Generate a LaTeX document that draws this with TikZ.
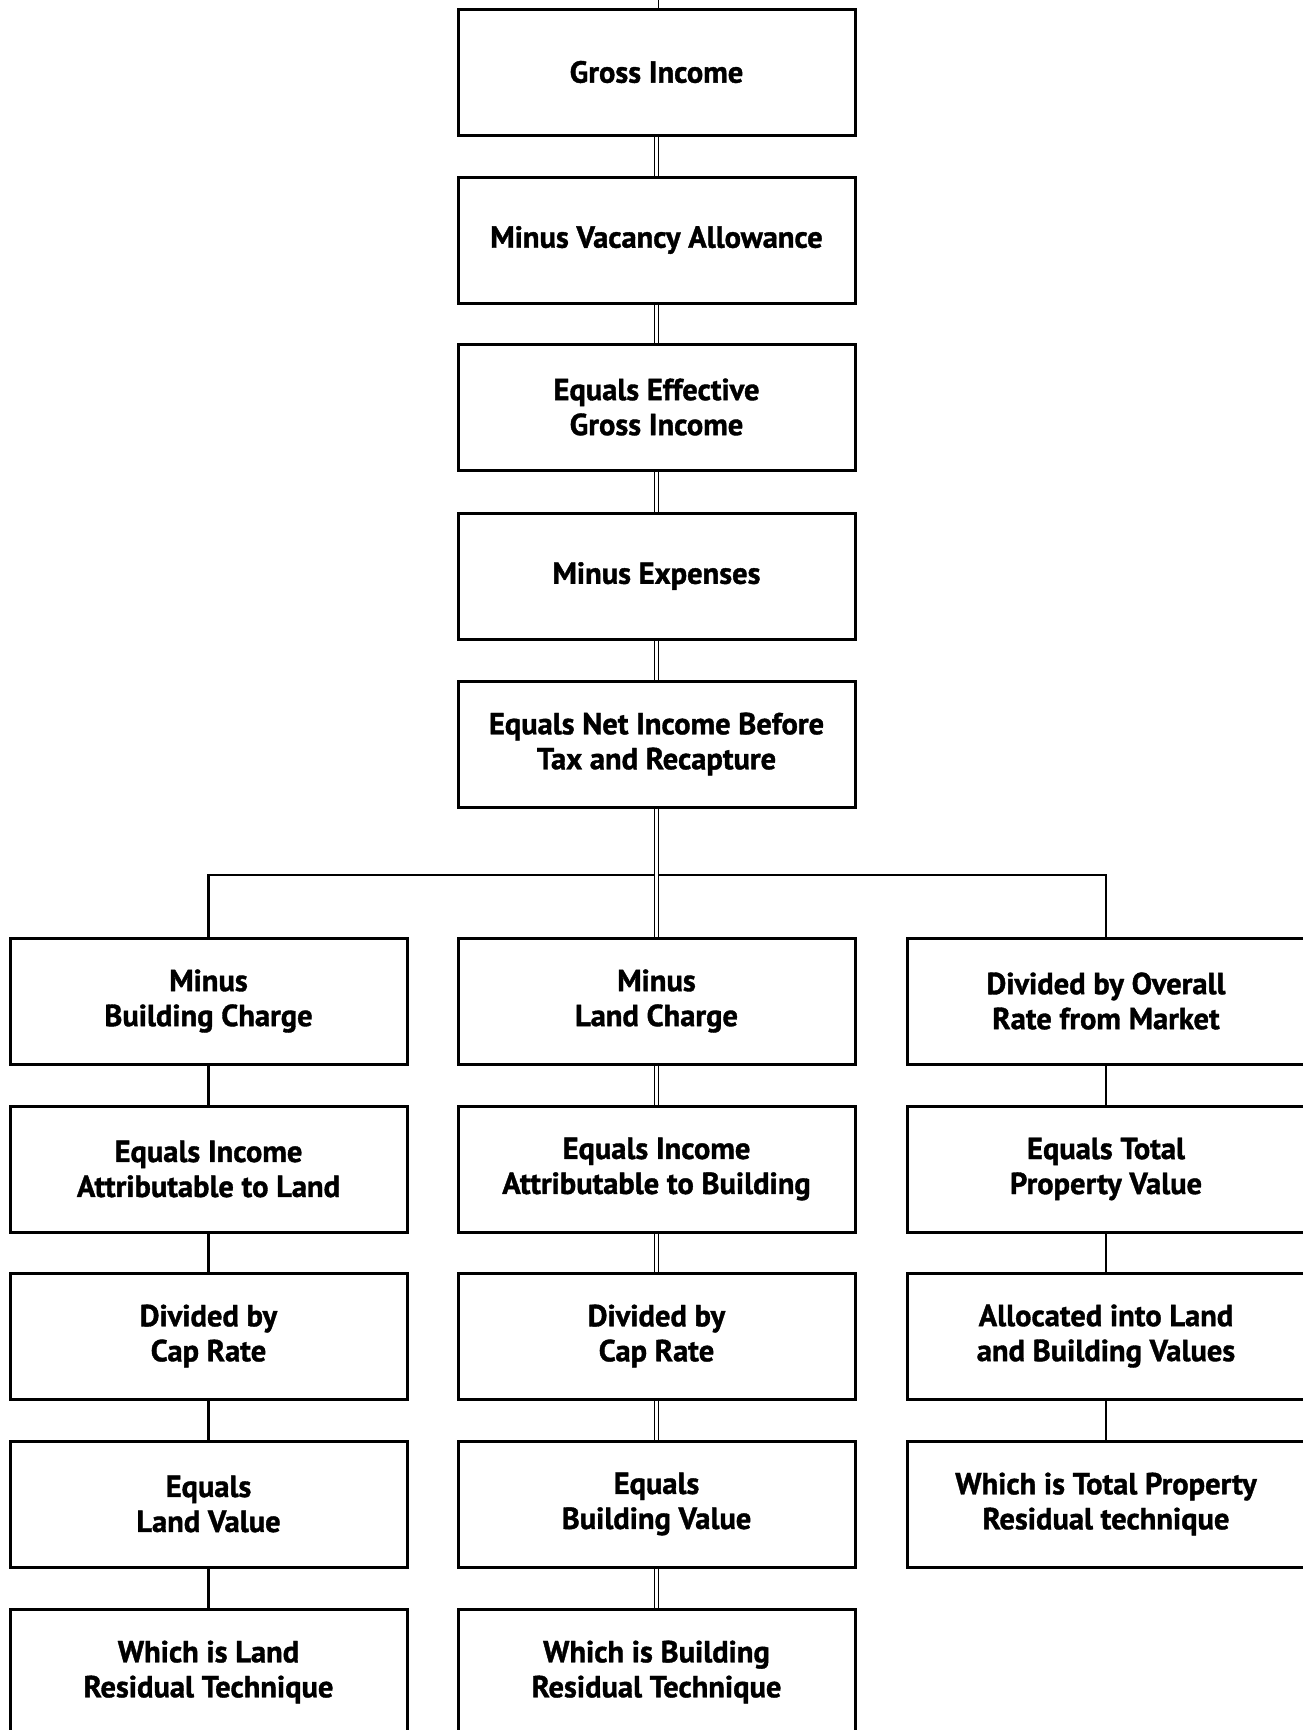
\documentclass[tikz,border=0pt]{standalone}
\usepackage{fontspec}
\setmainfont{PT Sans}[BoldFeatures={FakeBold=1.2}]

\tikzset{
	stepbox/.style={draw, line width=3pt, minimum width=397pt, minimum height=126pt, inner sep=0pt, align=center, font=\fontsize{30.5}{35}\selectfont\bfseries},
	link/.style={line width=2.4pt},
	dlink/.style={double, line width=1.4pt, double distance=2.2pt}
}

\begin{document}
\begin{tikzpicture}[x=1pt,y=-1pt]
		\useasboundingbox (0,0) rectangle (1302,1730);
		
		% centre column
		\node [stepbox] (gross) at (656.5,72) {Gross Income};
		\node [stepbox] (vacancy) at (656.5,240) {Minus Vacancy Allowance};
		\node [stepbox] (egi) at (656.5,407) {Equals Effective\\Gross Income};
		\node [stepbox] (expenses) at (656.5,576) {Minus Expenses};
		\node [stepbox] (noi) at (656.5,744) {Equals Net Income Before\\Tax and Recapture};
		\node [stepbox] (landcharge) at (656.5,1001) {Minus\\Land Charge};
		\node [stepbox] (incbuilding) at (656.5,1169) {Equals Income\\Attributable to Building};
		\node [stepbox] (capbuilding) at (656.5,1336) {Divided by\\Cap Rate};
		\node [stepbox] (buildingvalue) at (656.5,1504) {Equals\\Building Value};
		\node [stepbox] (buildingres) at (656.5,1672) {Which is Building\\Residual Technique};
		
		% left column
		\node [stepbox] (buildcharge) at (208.5,1001) {Minus\\Building Charge};
		\node [stepbox] (incland) at (208.5,1169) {Equals Income\\Attributable to Land};
		\node [stepbox] (capland) at (208.5,1336) {Divided by\\Cap Rate};
		\node [stepbox] (landvalue) at (208.5,1504) {Equals\\Land Value};
		\node [stepbox] (landres) at (208.5,1672) {Which is Land\\Residual Technique};
		
		% right column
		\node [stepbox] (overall) at (1106,1001) {Divided by Overall\\Rate from Market};
		\node [stepbox] (total) at (1106,1169) {Equals Total\\Property Value};
		\node [stepbox] (allocated) at (1106,1336) {Allocated into Land\\and Building Values};
		\node [stepbox] (totalres) at (1106,1504) {Which is Total Property\\Residual technique};
		
		\coordinate (top) at (658,0);
		\coordinate (split) at (656.5,875);
		
		\draw [line width=1pt] (top) -- (gross.north -| top);
		
		\draw [link] (buildcharge.north) |- (split);
		\draw [link] (overall.north) |- (split);
		
		\draw [dlink] (gross) -- (vacancy);
		\draw [dlink] (vacancy) -- (egi);
		\draw [dlink] (egi) -- (expenses);
		\draw [dlink] (expenses) -- (noi);
		\draw [dlink] (noi) -- (landcharge);
		\draw [dlink] (landcharge) -- (incbuilding);
		\draw [dlink] (incbuilding) -- (capbuilding);
		\draw [dlink] (capbuilding) -- (buildingvalue);
		\draw [dlink] (buildingvalue) -- (buildingres);
		
		\draw [link] (buildcharge) -- (incland);
		\draw [link] (incland) -- (capland);
		\draw [link] (capland) -- (landvalue);
		\draw [link] (landvalue) -- (landres);
		
		\draw [link] (overall) -- (total);
		\draw [link] (total) -- (allocated);
		\draw [link] (allocated) -- (totalres);
	\end{tikzpicture}
\end{document}
